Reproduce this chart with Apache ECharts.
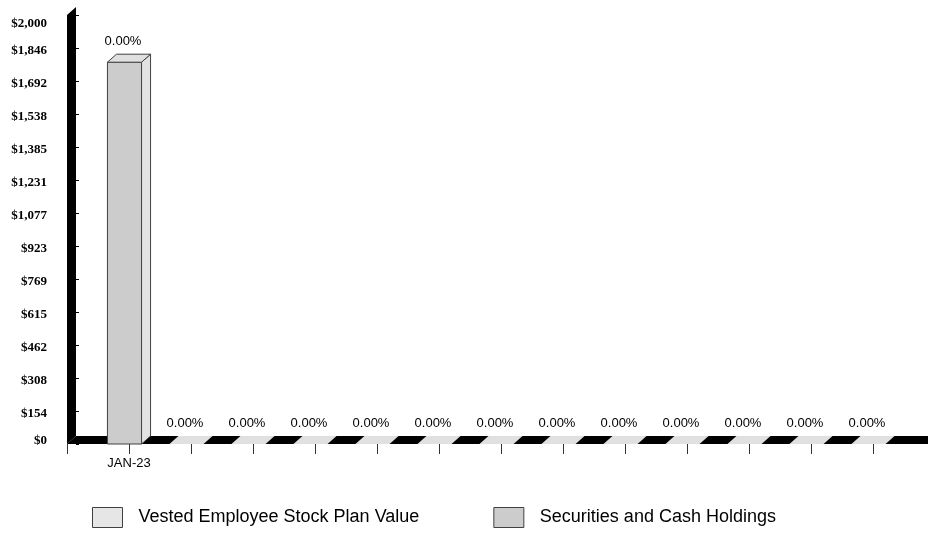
<!DOCTYPE html>
<html><head><meta charset="utf-8">
<script src="https://cdn.jsdelivr.net/npm/echarts@6/dist/echarts.min.js"></script>
<style>html,body{margin:0;padding:0;background:#fff}#c{width:928px;height:535px}</style>
</head><body><div id="c"></div>
<script>
// ---- data ----
const categories = ['JAN-23','','','','','','','','','','','',''];
const vestedValues = [0,0,0,0,0,0,0,0,0,0,0,0,0];
const securitiesValues = [1780,0,0,0,0,0,0,0,0,0,0,0,0];
const percentLabels = ['0.00%','0.00%','0.00%','0.00%','0.00%','0.00%','0.00%','0.00%','0.00%','0.00%','0.00%','0.00%','0.00%'];
const seriesNames = ['Vested Employee Stock Plan Value','Securities and Cash Holdings'];
const yMin = 0;
const yMax = 2000;
const yStep = 2000 / 13;

// ---- drawing ----
const DX = 9, DY = 8;
const xCats = [''].concat(categories);
const vestedData = categories.map((c, i) => [i + 1, 0, vestedValues[i]]);
const securitiesData = categories.map((c, i) => [i + 1, vestedValues[i], vestedValues[i] + securitiesValues[i]]);

function boxRenderer(frontColor, sideColor, topColor, isTop) {
  return function (params, api) {
    const idx = api.value(0);
    const base = api.value(1), top = api.value(2);
    const p0 = api.coord([idx, base]);
    const p1 = api.coord([idx, top]);
    const bw = api.size([1, 0])[0] * 0.55;
    const cx = p0[0] - DX / 2;
    const x0 = cx - bw / 2, x1 = cx + bw / 2;
    const yb = p0[1], yt = p1[1];
    const children = [];
    const h = yb - yt;
    if (h > 0.5) {
      children.push({type: 'rect', shape: {x: x0, y: yt, width: bw, height: h},
        style: {fill: frontColor, stroke: '#404040', lineWidth: 1}});
      children.push({type: 'polygon', shape: {points: [[x1, yb], [x1 + DX, yb - DY], [x1 + DX, yt - DY], [x1, yt]]},
        style: {fill: sideColor, stroke: '#404040', lineWidth: 1}});
    }
    if (isTop) {
      children.push({type: 'polygon', shape: {points: [[x0, yt], [x1, yt], [x1 + DX, yt - DY], [x0 + DX, yt - DY]]},
        style: h > 0.5 ? {fill: topColor, stroke: '#404040', lineWidth: 1} : {fill: topColor}});
      children.push({type: 'text', style: {text: percentLabels[idx - 1], x: p0[0] - 6, y: yt - DY - 13,
        align: 'center', verticalAlign: 'middle', font: '13px "Liberation Sans", Arial, sans-serif', fill: '#000'}});
    }
    return {type: 'group', children: children};
  };
}

function floorRenderer(params, api) {
  const cs = params.coordSys;
  const left = cs.x, topY = cs.y, bottom = cs.y + cs.height;
  const right = api.getWidth() + DX;
  return {type: 'group', children: [
    {type: 'polygon', shape: {points: [[left, topY], [left + DX, topY - DY], [left + DX, bottom - DY], [left, bottom]]},
      style: {fill: '#000'}},
    {type: 'polygon', shape: {points: [[left, bottom], [left + DX, bottom - DY], [right, bottom - DY], [right, bottom]]},
      style: {fill: '#000'}}
  ]};
}

const labelFont = {fontSize: 13, fontWeight: 'bold', color: '#000', fontFamily: '"Liberation Serif", "Times New Roman", serif'};

const chart = echarts.init(document.getElementById('c'), null, {renderer: 'canvas'});
chart.setOption({
  animation: false,
  backgroundColor: '#fff',
  grid: {left: 67, right: 55, top: 15, bottom: 91},
  xAxis: {type: 'category', data: xCats, boundaryGap: false,
    axisLine: {show: false},
    axisTick: {show: true, interval: 0, length: 10, lineStyle: {color: '#333', width: 1}},
    axisLabel: {interval: 0, margin: 13, color: '#000', fontSize: 13, fontFamily: '"Liberation Sans", Arial, sans-serif'},
    splitLine: {show: false}},
  yAxis: [
    {type: 'value', min: yMin, max: yMax, interval: yStep,
      axisLine: {show: false}, axisTick: {show: false}, splitLine: {show: false},
      axisLabel: Object.assign({margin: 20,
        formatter: v => {
          const t = '$' + Math.round(v).toLocaleString('en-US');
          if (Math.round(v) >= yMax) return '{mx|' + t + '}';
          if (Math.round(v) <= yMin) return '{mn|' + t + '}';
          return '{n|' + t + '}';
        },
        rich: {
          mx: Object.assign({padding: [18, 0, 0, 0]}, labelFont),
          mn: Object.assign({padding: [0, 0, 6, 0]}, labelFont),
          n: Object.assign({padding: [6, 0, 0, 0]}, labelFont)
        }}, labelFont)},
    {type: 'value', min: yMin, max: yMax, interval: yStep, position: 'left', offset: -DX,
      axisLine: {show: false}, splitLine: {show: false}, axisLabel: {show: false},
      axisTick: {show: true, inside: true, length: 3, lineStyle: {color: '#000'}}}
  ],
  legend: {
    left: 87, top: 502, itemWidth: 30, itemHeight: 20, itemGap: 74, selectedMode: false, icon: 'rect',
    data: [
      {name: seriesNames[0], itemStyle: {color: '#e6e6e6', borderColor: '#404040', borderWidth: 1}},
      {name: seriesNames[1], itemStyle: {color: '#cccccc', borderColor: '#404040', borderWidth: 1}}
    ],
    textStyle: {fontFamily: '"Liberation Sans", Arial, sans-serif', fontSize: 18, color: '#000', padding: [0, 0, 0, 11]}
  },
  series: [
    {type: 'custom', name: 'floor', silent: true, z: 1,
      renderItem: floorRenderer, data: [[0, 0]]},
    {type: 'custom', name: seriesNames[0], z: 2,
      itemStyle: {color: '#e6e6e6'},
      renderItem: boxRenderer('#e6e6e6', '#f0f0f0', '#e3e3e3', false),
      encode: {x: 0, y: [1, 2]}, data: vestedData},
    {type: 'custom', name: seriesNames[1], z: 3,
      itemStyle: {color: '#cccccc'},
      renderItem: boxRenderer('#cccccc', '#e2e2e2', '#e0e0e0', true),
      encode: {x: 0, y: [1, 2]}, data: securitiesData}
  ]
});
</script>
</body></html>
